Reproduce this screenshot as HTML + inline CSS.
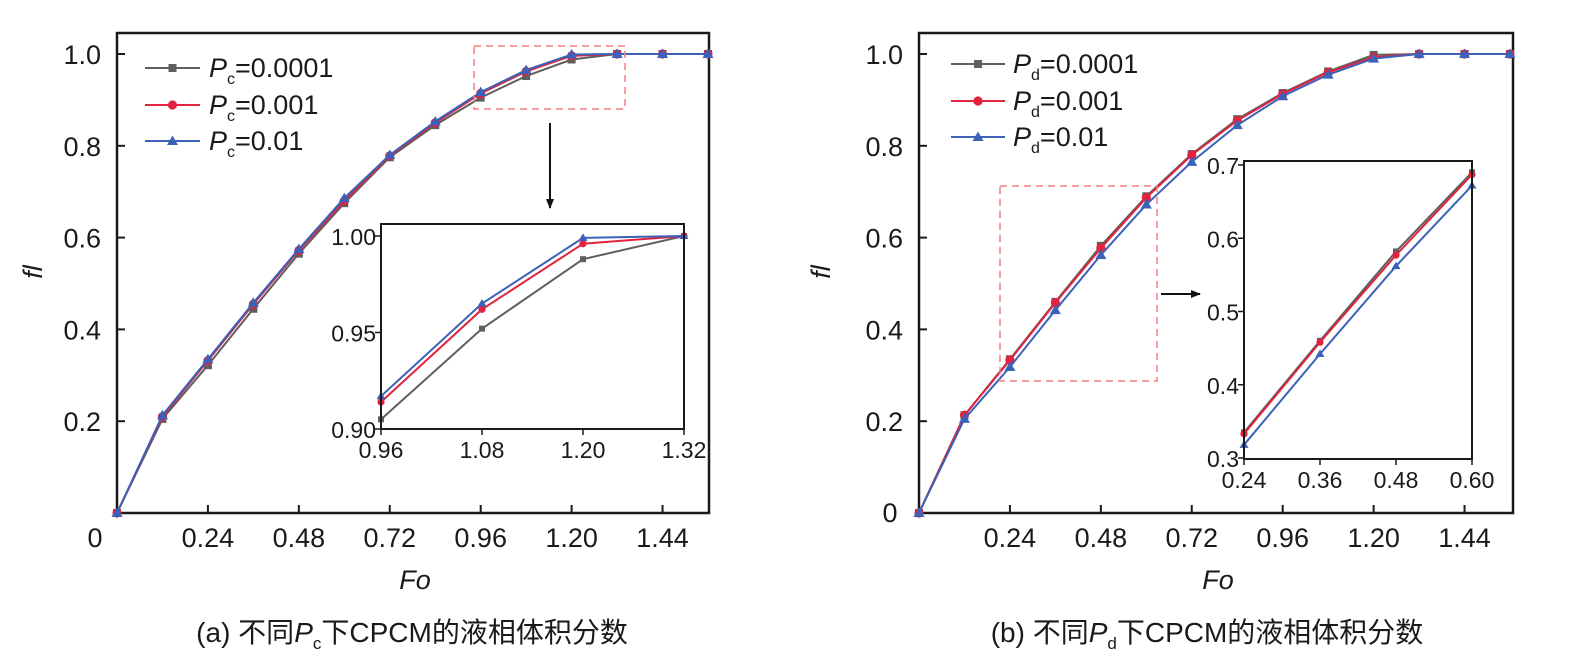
<!DOCTYPE html>
<html><head><meta charset="utf-8">
<style>
html,body{margin:0;padding:0;background:#fff;}
svg{display:block;font-family:"Liberation Sans","Noto Sans CJK SC",sans-serif;}
</style></head>
<body>
<svg id="fig" width="1580" height="671" viewBox="0 0 1580 671" xmlns="http://www.w3.org/2000/svg">
<defs>
<marker id="ah" markerWidth="10" markerHeight="10" refX="9" refY="5" orient="auto" markerUnits="userSpaceOnUse"><path d="M0,1 L10,5 L0,9 z" fill="#111"/></marker>
</defs>
</svg>
<script>
// ---------- data ----------
const foValues = [0,0.12,0.24,0.36,0.48,0.60,0.72,0.84,0.96,1.08,1.20,1.32,1.44,1.56];
const xTickValues = [0.24,0.48,0.72,0.96,1.20,1.44];
const xTickLabels = ["0.24","0.48","0.72","0.96","1.20","1.44"];
const yTickValues = [0.2,0.4,0.6,0.8,1.0];
const yTickLabels = ["0.2","0.4","0.6","0.8","1.0"];

const seriesNamesA = ["0.0001","0.001","0.01"];
const pc0001 = [0,0.205,0.322,0.445,0.565,0.675,0.775,0.845,0.905,0.952,0.988,1,1,1];
const pc001  = [0,0.210,0.332,0.455,0.572,0.680,0.778,0.850,0.914,0.962,0.996,1,1,1];
const pc01   = [0,0.213,0.335,0.458,0.575,0.686,0.780,0.853,0.917,0.965,0.999,1,1,1];
const insetAxTicks = [0.96,1.08,1.20,1.32];
const insetAxLabels = ["0.96","1.08","1.20","1.32"];
const insetAyTicks = [0.90,0.95,1.00];
const insetAyLabels = ["0.90","0.95","1.00"];

const seriesNamesB = ["0.0001","0.001","0.01"];
const pd0001 = [0,0.213,0.335,0.460,0.582,0.690,0.782,0.858,0.915,0.962,0.998,1,1,1];
const pd001  = [0,0.213,0.333,0.458,0.577,0.687,0.780,0.855,0.913,0.960,0.993,1,1,1];
const pd01   = [0,0.205,0.318,0.442,0.562,0.672,0.765,0.845,0.908,0.955,0.990,1,1,1];
const insetBxTicks = [0.24,0.36,0.48,0.60];
const insetBxLabels = ["0.24","0.36","0.48","0.60"];
const insetByTicks = [0.3,0.4,0.5,0.6,0.7];
const insetByLabels = ["0.3","0.4","0.5","0.6","0.7"];

const colors = ["#5f5f5f","#e0233f","#3b62b8"];
const markers = ["square","circle","triangle"];

// ---------- drawing ----------
const NS = "http://www.w3.org/2000/svg";
const svg = document.getElementById("fig");
function el(tag, attrs, parent){
  const e = document.createElementNS(NS, tag);
  for (const k in attrs) e.setAttribute(k, attrs[k]);
  (parent||svg).appendChild(e);
  return e;
}
function marker(g, type, x, y, color, s){
  let m;
  if (type==="square") m = el("rect",{x:x-s,y:y-s,width:2*s,height:2*s,fill:color},g);
  else if (type==="circle") m = el("circle",{cx:x,cy:y,r:s+0.6,fill:color},g);
  else m = el("path",{d:`M${x},${y-s-1.5} L${x+s+1.5},${y+s} L${x-s-1.5},${y+s} Z`,fill:color},g);
  
  
}
function plotSeries(g, xs, ys, sx, sy, color, mk, ms, xmin, xmax, ymin, ymax, clip){
  const pts = [];
  for (let i=0;i<xs.length;i++){
    if (xs[i] < xmin-1e-9 || xs[i] > xmax+1e-9) continue;
    pts.push([sx(xs[i]), sy(ys[i])]);
  }
  const pl = el("polyline",{points:pts.map(p=>p.join(",")).join(" "),fill:"none",stroke:color,"stroke-width":2,"clip-path":clip||""},g);
  
  
  if (ms>0) pts.forEach(p=>marker(g, mk, p[0], p[1], color, ms));
}

function drawPanel(cfg){
  const g = el("g",{});
  
  
  const L=cfg.left, R=cfg.right, T=33, B=513;
  const sx = v => L + v*(591/1.56);
  const sy = v => B - v*459;
  const fr = el("rect",{x:L,y:T,width:R-L,height:B-T,fill:"none",stroke:"#1a1a1a","stroke-width":2.5},g);
  
  
  xTickValues.forEach((v,i)=>{
    el("line",{x1:sx(v),x2:sx(v),y1:B,y2:B-8,stroke:"#1a1a1a","stroke-width":2},g);
    const t = el("text",{x:sx(v),y:547,"text-anchor":"middle","font-size":27,fill:"#1a1a1a"},g);
    t.textContent = xTickLabels[i];
    
    
  });
  yTickValues.forEach((v,i)=>{
    el("line",{x1:L,x2:L+8,y1:sy(v),y2:sy(v),stroke:"#1a1a1a","stroke-width":2},g);
    const t = el("text",{x:L-16,y:sy(v)+10,"text-anchor":"end","font-size":27,fill:"#1a1a1a"},g);
    t.textContent = yTickLabels[i];
    
    
  });
  const z = el("text",{x:cfg.zeroX,y:cfg.zeroY,"text-anchor":"middle","font-size":27,fill:"#1a1a1a"},g);
  z.textContent = "0";
  
  
  const yt = el("text",{x:0,y:0,transform:`translate(${cfg.yTitleX},272) rotate(-90)`,"text-anchor":"middle","font-size":27,"font-style":"italic",fill:"#1a1a1a"},g);
  yt.textContent = "fl";
  
  
  const xt = el("text",{x:(L+R)/2+2,y:589,"text-anchor":"middle","font-size":27,"font-style":"italic",fill:"#1a1a1a"},g);
  xt.textContent = "Fo";
  
  
  const cap = el("text",{x:cfg.capX,y:642,"text-anchor":"middle","font-size":28,fill:"#1a1a1a"},g);
  
  
  cap.innerHTML = `${cfg.capPrefix} 不同<tspan font-style="italic">P</tspan><tspan font-size="17" dy="7">${cfg.sub}</tspan><tspan dy="-7">下CPCM的液相体积分数</tspan>`;
  cfg.series.forEach((s,i)=>plotSeries(g, foValues, s, sx, sy, colors[i], markers[i], 4, 0, 1.56, 0, 1));
  const db = el("rect",{x:cfg.dash[0],y:cfg.dash[1],width:cfg.dash[2],height:cfg.dash[3],fill:"none",stroke:"#f08080","stroke-width":1.5,"stroke-dasharray":"7,5"},g);
  
  
  const ar = el("line",{x1:cfg.arrow[0],y1:cfg.arrow[1],x2:cfg.arrow[2],y2:cfg.arrow[3],stroke:"#111","stroke-width":2,"marker-end":"url(#ah)"},g);
  
  
  cfg.legend.rows.forEach((ry,i)=>{
    const lg = el("g",{},g);
    
    
    el("line",{x1:cfg.legend.x1,x2:cfg.legend.x2,y1:ry,y2:ry,stroke:colors[i],"stroke-width":2},lg);
    marker(lg, markers[i], (cfg.legend.x1+cfg.legend.x2)/2, ry, colors[i], 4);
    const t = el("text",{x:cfg.legend.tx,y:ry+9,"font-size":27,fill:"#1a1a1a"},lg);
    t.innerHTML = `<tspan font-style="italic">P</tspan><tspan font-size="16" dy="7">${cfg.sub}</tspan><tspan dy="-7">=${cfg.names[i]}</tspan>`;
  });
  const I = cfg.inset;
  const ig = el("g",{},g);
  
  
  el("rect",{x:I.L,y:I.T,width:I.R-I.L,height:I.B-I.T,fill:"#fff"},ig);
  const isx = v => I.L + (v-I.x0)/(I.x1-I.x0)*(I.R-I.L);
  const isy = v => I.y0px - (v-I.y0)/(I.y1-I.y0)*(I.y0px-I.y1px);
  const cid = "clip-"+cfg.name;
  const cp = el("clipPath",{id:cid},svg);
  el("rect",{x:I.L-6,y:I.T-6,width:I.R-I.L+12,height:I.B-I.T+12},cp);
  cfg.series.forEach((s,i)=>plotSeries(ig, foValues, s, isx, isy, colors[i], markers[i], 3, I.x0, I.x1, I.y0, I.y1, `url(#${cid})`));
  el("rect",{x:I.L,y:I.T,width:I.R-I.L,height:I.B-I.T,fill:"none",stroke:"#1a1a1a","stroke-width":2},ig);
  I.xt.forEach((v,i)=>{
    el("line",{x1:isx(v),x2:isx(v),y1:I.B,y2:I.B+6,stroke:"#1a1a1a","stroke-width":1.5},ig);
    const t = el("text",{x:isx(v),y:I.B+29,"text-anchor":"middle","font-size":23,fill:"#1a1a1a"},ig);
    t.textContent = I.xl[i];
    
    
  });
  I.yt.forEach((v,i)=>{
    el("line",{x1:I.L,x2:I.L-6,y1:isy(v),y2:isy(v),stroke:"#1a1a1a","stroke-width":1.5},ig);
    const t = el("text",{x:I.L-5,y:isy(v)+9,"text-anchor":"end","font-size":23,fill:"#1a1a1a"},ig);
    t.textContent = I.yl[i];
    
    
  });
}

drawPanel({
  name:"chart-a", left:117, right:709, zeroX:95, zeroY:547, yTitleX:42, capX:412, capPrefix:"(a)", sub:"c",
  series:[pc0001,pc001,pc01], names:seriesNamesA,
  dash:[474,46,151,63], arrow:[550,123,550,208],
  legend:{x1:145,x2:200,tx:209,rows:[68,105,141]},
  inset:{L:381,R:684,T:224,B:429,x0:0.96,x1:1.32,y0:0.90,y1:1.00,y0px:429,y1px:236,
    xt:insetAxTicks,xl:insetAxLabels,yt:insetAyTicks,yl:insetAyLabels}
});
drawPanel({
  name:"chart-b", left:919, right:1513, zeroX:890, zeroY:522, yTitleX:830, capX:1207, capPrefix:"(b)", sub:"d",
  series:[pd0001,pd001,pd01], names:seriesNamesB,
  dash:[1000,186,157,195], arrow:[1161,294,1200,294],
  legend:{x1:951,x2:1005,tx:1013,rows:[64,101,137]},
  inset:{L:1244,R:1472,T:161,B:459,x0:0.24,x1:0.60,y0:0.3,y1:0.7,y0px:458,y1px:165,
    xt:insetBxTicks,xl:insetBxLabels,yt:insetByTicks,yl:insetByLabels}
});
</script>
</body></html>
